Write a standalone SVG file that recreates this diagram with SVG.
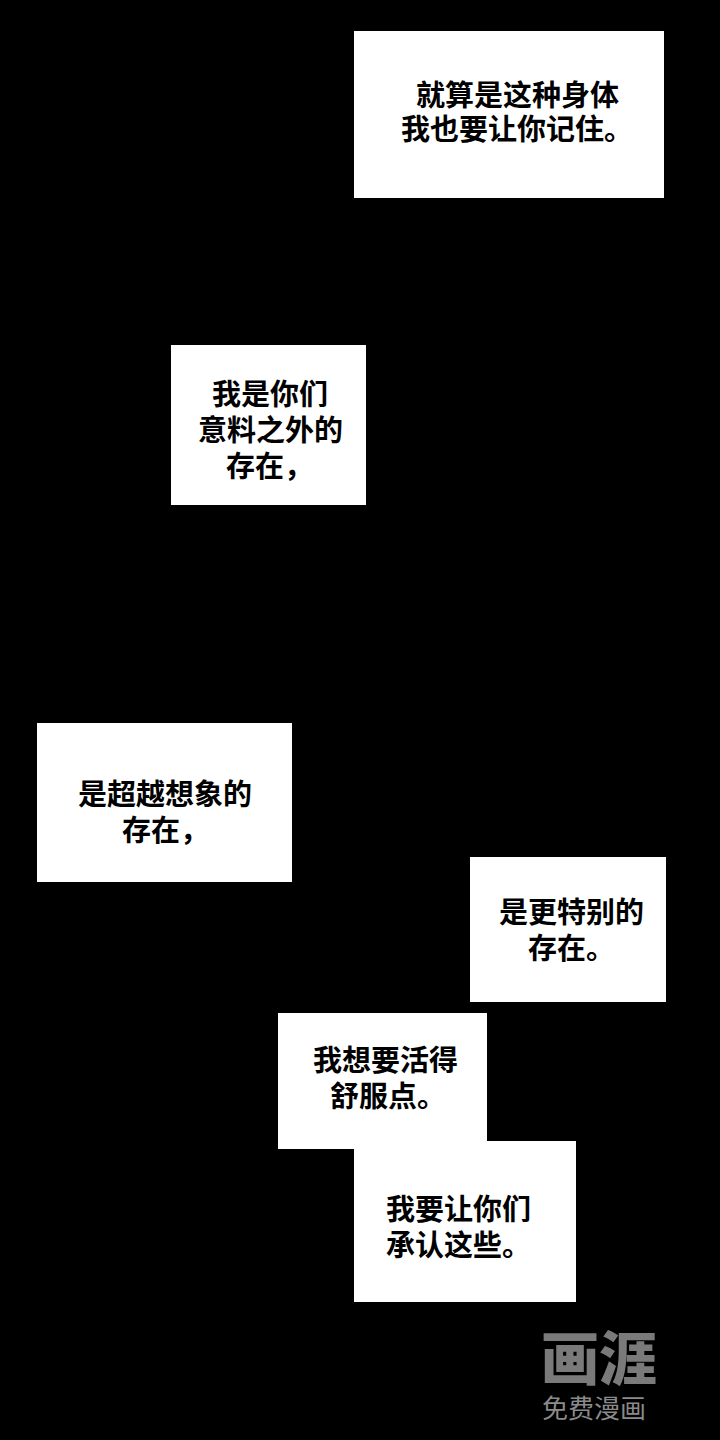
<svg xmlns="http://www.w3.org/2000/svg" width="720" height="1440" viewBox="0 0 720 1440">
  <style>
    .box { fill: #ffffff; }
    .t { font-family: "Noto Sans CJK SC", "Noto Sans", sans-serif; font-size: 29px; font-weight: 700; fill: #000000; }
    .logo { font-family: "Noto Sans CJK SC", sans-serif; font-size: 58px; font-weight: 900; fill: #7a7a7a; }
    .sub { font-family: "Noto Sans CJK SC", sans-serif; font-size: 26px; font-weight: 400; fill: #8a8a8a; }
  </style>
  <rect x="0" y="0" width="720" height="1440" fill="#000000"/>
  <g id="connectors"/>
  <g id="box1">
    <rect class="box" x="354" y="31" width="310" height="167"/>
    <text class="t" x="416" y="106">就算是这种身体</text>
    <text class="t" x="401" y="140">我也要让你记住。</text>
  </g>
  <g id="box2">
    <rect class="box" x="171" y="345" width="195" height="160"/>
    <text class="t" x="212" y="405">我是你们</text>
    <text class="t" x="198" y="441">意料之外的</text>
    <text class="t" x="226" y="477">存在，</text>
  </g>
  <g id="box3">
    <rect class="box" x="37" y="723" width="255" height="159"/>
    <text class="t" x="78" y="805">是超越想象的</text>
    <text class="t" x="122" y="841">存在，</text>
  </g>
  <g id="box4">
    <rect class="box" x="470" y="857" width="196" height="145"/>
    <text class="t" x="499" y="923">是更特别的</text>
    <text class="t" x="528" y="959">存在。</text>
  </g>
  <g id="box5">
    <rect class="box" x="278" y="1013" width="209" height="136"/>
    <text class="t" x="313" y="1071">我想要活得</text>
    <text class="t" x="330" y="1107">舒服点。</text>
  </g>
  <g id="box6">
    <rect class="box" x="354" y="1141" width="222" height="161"/>
    <text class="t" x="386" y="1220">我要让你们</text>
    <text class="t" x="386" y="1256">承认这些。</text>
  </g>
  <g id="watermark">
    <text class="logo" x="541" y="1380">画涯</text>
    <text class="sub" x="542" y="1418">免费漫画</text>
  </g>
</svg>
